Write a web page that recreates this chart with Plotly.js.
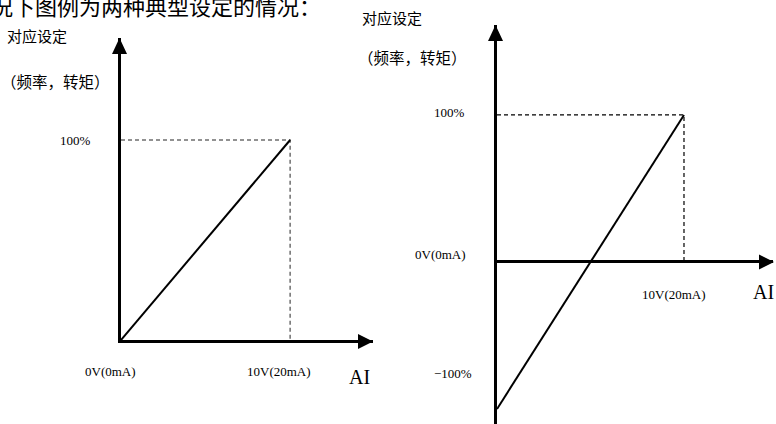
<!DOCTYPE html>
<html>
<head>
<meta charset="utf-8">
<script src="https://cdn.plot.ly/plotly-3.0.1.min.js"></script>
<style>
html,body{margin:0;padding:0;background:#fff;}
</style>
</head>
<body>
<div id="chart" style="width:776px;height:424px;"></div>
<script>
// ---- data ----
var leftX = [0, 10];
var leftY = [0, 100];
var leftGuideX = [0, 10, 10];
var leftGuideY = [100, 100, 0];

var rightX = [0, 10];
var rightY = [-100, 100];
var rightGuideX = [0, 10, 10];
var rightGuideY = [100, 100, 0];

var xTickLabels = ['0V(0mA)', '10V(20mA)'];
var yTickLabels = ['100%', '−100%'];
var axisNameX = 'AI';
var axisNameY = '对应设定';
var axisNameY2 = '（频率，转矩）';
var headline = '况下图例为两种典型设定的情况：';

var W = 776, H = 424;
var serif = 'Liberation Serif, serif';
var cjk = 'Noto Sans CJK SC, sans-serif';

function px2x(p){ return p / W; }
function px2y(p){ return 1 - p / H; }

// subplot frames (pixels)
var L = {x0: 121, x1: 373, y0: 340, y1: 38};
var R = {x0: 497, x1: 773, y0: 424, y1: 25, zeroY: 262};

var traces = [
  {x: leftGuideX, y: leftGuideY, xaxis: 'x', yaxis: 'y', mode: 'lines',
   line: {color: '#6e6e6e', width: 1.5, dash: '4px,3px'}, hoverinfo: 'skip'},
  {x: leftX, y: leftY, xaxis: 'x', yaxis: 'y', mode: 'lines',
   line: {color: '#000', width: 2}, hoverinfo: 'skip'},
  {x: rightGuideX, y: rightGuideY, xaxis: 'x2', yaxis: 'y2', mode: 'lines',
   line: {color: '#000', width: 1.2, dash: '4px,3px'}, hoverinfo: 'skip'},
  {x: rightX, y: rightY, xaxis: 'x2', yaxis: 'y2', mode: 'lines',
   line: {color: '#000', width: 2}, hoverinfo: 'skip'}
];

var axBase = {showgrid: false, zeroline: false, showticklabels: false, ticks: '', fixedrange: true};

function arrow(xpx, ypx, dir){
  var p = dir === 'right' ? 'M-15,7.5 L0,0 L-15,-7.5 Z' : 'M-7.5,-16 L0,0 L7.5,-16 Z';
  return {type: 'path', xref: 'paper', yref: 'paper', xsizemode: 'pixel', ysizemode: 'pixel',
          xanchor: px2x(xpx), yanchor: px2y(ypx), path: p, fillcolor: '#000', line: {width: 0}};
}

function lab(opts){
  return Object.assign({showarrow: false, xanchor: 'center', yanchor: 'middle'}, opts);
}

var layout = {
  width: W, height: H,
  margin: {l: 0, r: 0, t: 0, b: 0},
  paper_bgcolor: '#fff', plot_bgcolor: 'rgba(0,0,0,0)',
  showlegend: false,
  xaxis: Object.assign({}, axBase, {domain: [px2x(L.x0), px2x(L.x1)], range: [0, 14.9], anchor: 'y',
    showline: true, linewidth: 3, linecolor: '#000'}),
  yaxis: Object.assign({}, axBase, {domain: [px2y(L.y0), px2y(L.y1)], range: [0, 151], anchor: 'x',
    showline: true, linewidth: 3, linecolor: '#000'}),
  xaxis2: Object.assign({}, axBase, {domain: [px2x(R.x0), px2x(R.x1)], range: [0, 14.76], anchor: 'y2'}),
  yaxis2: Object.assign({}, axBase, {domain: [0, px2y(R.y1)], range: [-110.2, 161.2], anchor: 'x2',
    showline: true, linewidth: 3, linecolor: '#000',
    zeroline: true, zerolinewidth: 3, zerolinecolor: '#000'}),
  shapes: [
    arrow(L.x1, L.y0 + 1.5, 'right'),
    arrow(L.x0 - 1.5, L.y1, 'up'),
    arrow(R.x1 + 1, R.zeroY, 'right'),
    arrow(R.x0 - 1.5, R.y1, 'up')
  ],
  annotations: [
    // headline (clipped at top, as in the reference)
    lab({xref: 'paper', yref: 'paper', x: px2x(-11), y: px2y(5), xanchor: 'left',
     text: headline, font: {family: cjk, size: 22, color: '#000'}}),
    // left chart labels
    lab({xref: 'paper', yref: 'paper', x: px2x(37), y: px2y(36), text: axisNameY,
     font: {family: cjk, size: 15, color: '#000'}}),
    lab({xref: 'paper', yref: 'paper', x: px2x(55.5), y: px2y(81), text: axisNameY2,
     font: {family: cjk, size: 15.5, color: '#000'}}),
    lab({xref: 'x', yref: 'y', x: leftGuideX[0], y: leftGuideY[0], xanchor: 'right', xshift: -28,
     text: yTickLabels[0], font: {family: serif, size: 13, color: '#000'}}),
    lab({xref: 'x', yref: 'y', x: leftX[0], y: leftY[0], xshift: -11, yshift: -31,
     text: xTickLabels[0], font: {family: serif, size: 13, color: '#000'}}),
    lab({xref: 'x', yref: 'y', x: leftGuideX[2], y: leftGuideY[2], xshift: -11.5, yshift: -31,
     text: xTickLabels[1], font: {family: serif, size: 13, color: '#000'}}),
    lab({xref: 'x domain', yref: 'y', x: 1, y: 0, xshift: -14, yshift: -37,
     text: axisNameX, font: {family: serif, size: 20, color: '#000'}}),
    // right chart labels
    lab({xref: 'paper', yref: 'paper', x: px2x(391.5), y: px2y(17), text: axisNameY,
     font: {family: cjk, size: 15, color: '#000'}}),
    lab({xref: 'paper', yref: 'paper', x: px2x(412.5), y: px2y(57), text: axisNameY2,
     font: {family: cjk, size: 15.5, color: '#000'}}),
    lab({xref: 'x2', yref: 'y2', x: rightGuideX[0], y: rightGuideY[0], xanchor: 'right', xshift: -30, yshift: 2,
     text: yTickLabels[0], font: {family: serif, size: 13, color: '#000'}}),
    lab({xref: 'x2', yref: 'y2', x: rightX[0], y: 0, xanchor: 'right', xshift: -29, yshift: 7,
     text: xTickLabels[0], font: {family: serif, size: 13, color: '#000'}}),
    lab({xref: 'x2', yref: 'y2', x: rightGuideX[2], y: rightGuideY[2], xshift: -10, yshift: -33,
     text: xTickLabels[1], font: {family: serif, size: 13, color: '#000'}}),
    lab({xref: 'x2 domain', yref: 'y2', x: 1, y: 0, xshift: -10, yshift: -30,
     text: axisNameX, font: {family: serif, size: 20, color: '#000'}}),
    lab({xref: 'x2', yref: 'y2', x: rightX[0], y: rightY[0], xanchor: 'right', xshift: -23, yshift: 36,
     text: yTickLabels[1], font: {family: serif, size: 13, color: '#000'}})
  ]
};

Plotly.newPlot('chart', traces, layout, {displayModeBar: false, staticPlot: true});
</script>
</body>
</html>
